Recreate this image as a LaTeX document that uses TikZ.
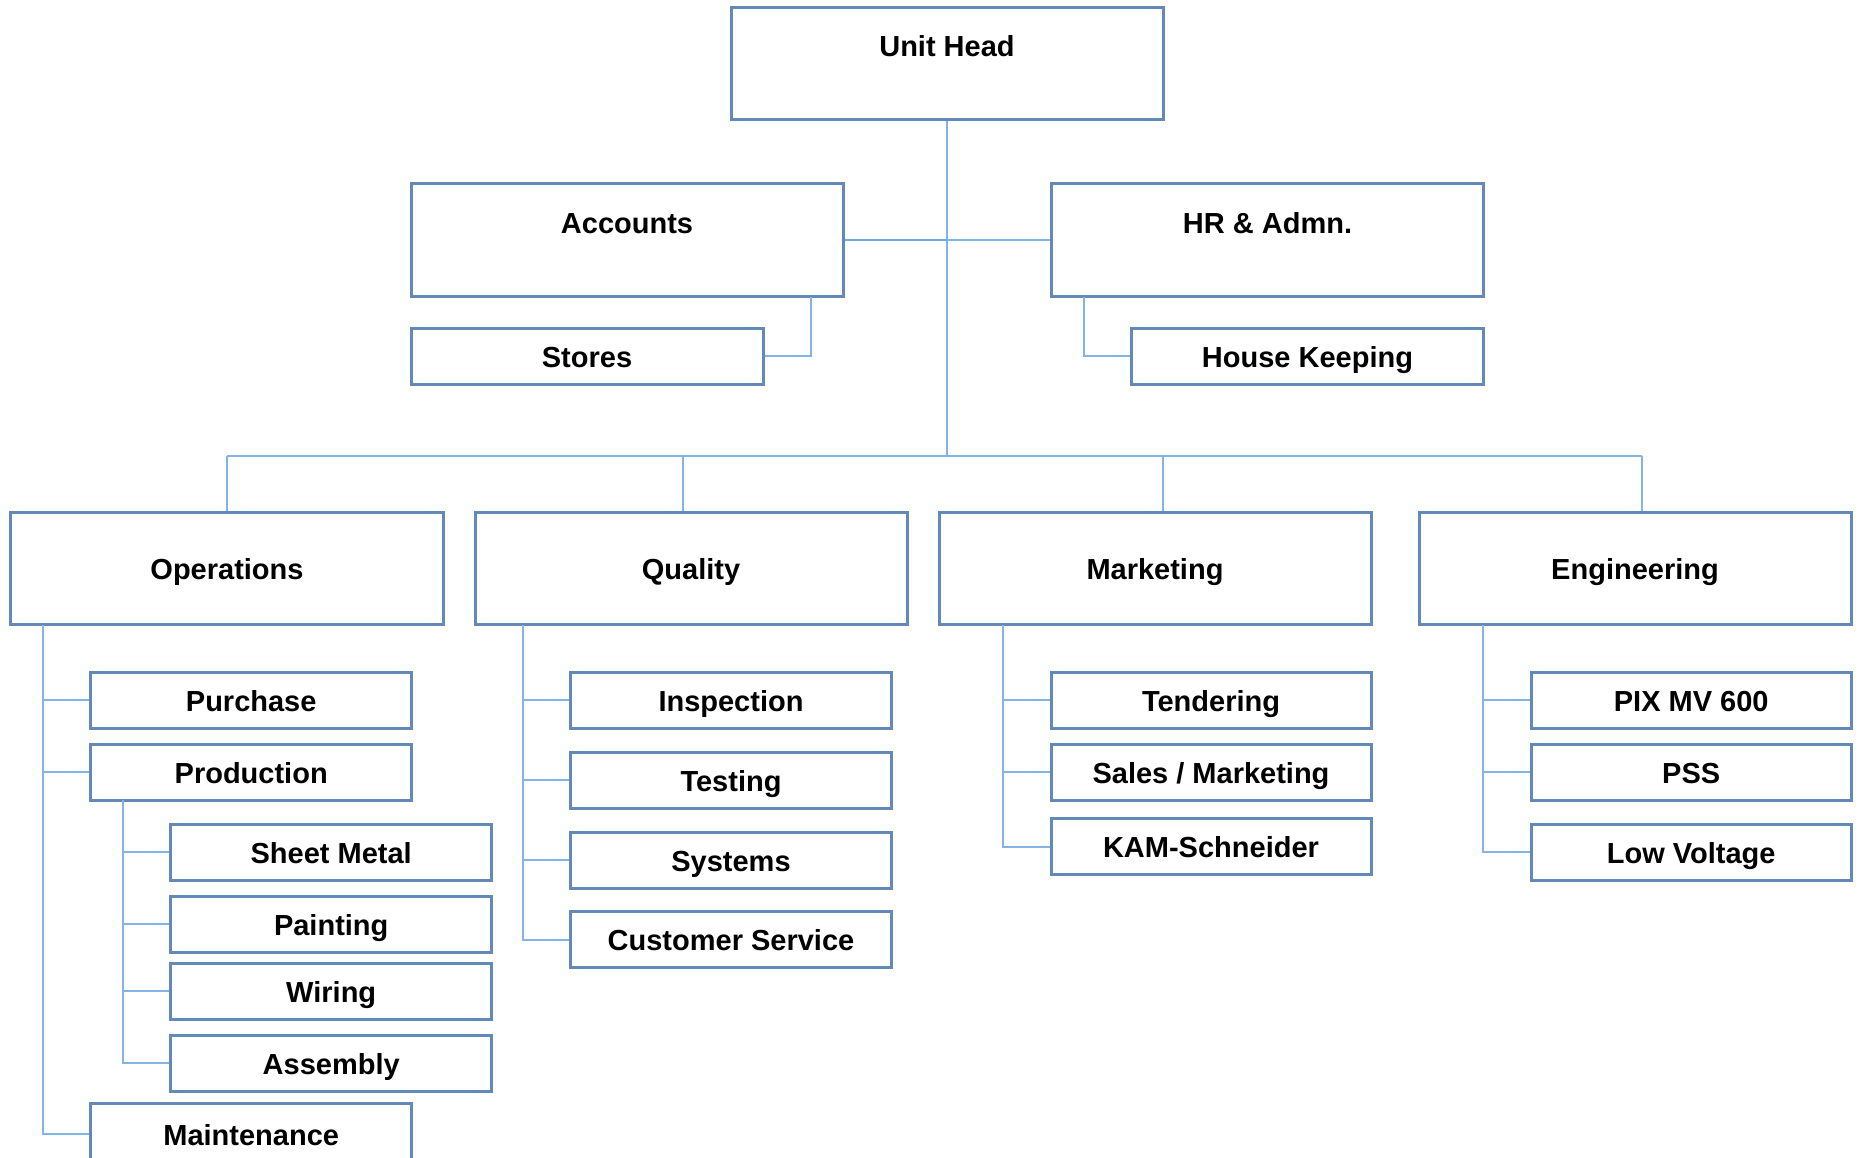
\documentclass[tikz,border=0pt]{standalone}
\usepackage{fontspec}
\setmainfont{Liberation Sans}
\definecolor{boxc}{RGB}{98,137,184}
\definecolor{linec}{RGB}{132,180,230}
\definecolor{linedk}{RGB}{112,168,228}
\begin{document}
\begin{tikzpicture}[x=1pt,y=-1pt,
  lbl/.style={font=\fontsize{29}{32}\selectfont\bfseries, text height=22pt, text depth=0pt},
  box/.style={draw=boxc, line width=3pt, fill=white, inner sep=0pt, rectangle, lbl},
  conn/.style={draw=linec, line width=2pt},
  conndk/.style={draw=linedk, line width=2.4pt}]
\clip (0,0) rectangle (1860,1158);
\fill[white] (0,0) rectangle (1860,1158);

% top level
\node[box, minimum width=432pt, minimum height=112pt,
  label={[yshift=18pt,lbl]center:Unit Head}] (uh) at (947,64) {};
\node[box, minimum width=432pt, minimum height=113pt,
  label={[yshift=17pt,lbl]center:Accounts}] (acc) at (627,240) {};
\node[box, minimum width=432pt, minimum height=113pt,
  label={[yshift=17pt,lbl]center:HR \& Admn.}] (hr) at (1267.5,240) {};
\node[box, minimum width=352pt, minimum height=56pt] (stores) at (587,356) {Stores};
\node[box, minimum width=352pt, minimum height=56pt] (hk) at (1307.5,356) {House Keeping};

% departments
\node[box, minimum width=433pt, minimum height=112pt] (ops) at (227,568) {Operations};
\node[box, minimum width=432pt, minimum height=112pt] (qual) at (691,568) {Quality};
\node[box, minimum width=432pt, minimum height=112pt] (mkt) at (1155,568) {Marketing};
\node[box, minimum width=432pt, minimum height=112pt] (eng) at (1635,568) {Engineering};

% operations children
\node[box, minimum width=321pt, minimum height=56pt] (pur) at (251.2,700) {Purchase};
\node[box, minimum width=321pt, minimum height=56pt] (prod) at (251.2,772) {Production};
\node[box, minimum width=321pt, minimum height=56pt] (sm) at (331.2,852) {Sheet Metal};
\node[box, minimum width=321pt, minimum height=56pt] (paint) at (331.2,924) {Painting};
\node[box, minimum width=321pt, minimum height=56pt] (wir) at (331.2,991) {Wiring};
\node[box, minimum width=321pt, minimum height=56pt] (asm) at (331.2,1063) {Assembly};
\node[box, minimum width=321pt, minimum height=62pt] (mnt) at (251.2,1134) {Maintenance};

% quality children
\node[box, minimum width=321pt, minimum height=56pt] (insp) at (731,700) {Inspection};
\node[box, minimum width=321pt, minimum height=56pt] (test) at (731,780) {Testing};
\node[box, minimum width=321pt, minimum height=56pt] (sys) at (731,860) {Systems};
\node[box, minimum width=321pt, minimum height=56pt] (cs) at (731,939.7) {Customer Service};

% marketing children
\node[box, minimum width=320pt, minimum height=56pt] (tend) at (1211,700) {Tendering};
\node[box, minimum width=320pt, minimum height=56pt] (sales) at (1211,772) {Sales / Marketing};
\node[box, minimum width=320pt, minimum height=56pt] (kam) at (1211,846.7) {KAM-Schneider};

% engineering children
\node[box, minimum width=320pt, minimum height=56pt] (pix) at (1691.2,700) {PIX MV 600};
\node[box, minimum width=320pt, minimum height=56pt] (pss) at (1691.2,772) {PSS};
\node[box, minimum width=320pt, minimum height=56pt] (lv) at (1691.2,852) {Low Voltage};

% connector coordinates
\coordinate (bus) at (947,455.7);
\coordinate (bops) at (227,455.7);
\coordinate (bqual) at (683,455.7);
\coordinate (bmkt) at (1163,455.7);
\coordinate (beng) at (1642.3,455.7);
\coordinate (tops) at (43,624.5);
\coordinate (tprod) at (123.3,800);
\coordinate (tqual) at (522.5,624.5);
\coordinate (tmkt) at (1003,624.5);
\coordinate (teng) at (1482.8,624.5);
\coordinate (tacc) at (810.7,297);
\coordinate (thr) at (1083.6,297);

\draw[conn] (uh.south) -- (bus);
\draw[conndk] (acc.east) -- (acc.east -| uh.south);
\draw[conn] (hr.west) -- (hr.west -| uh.south);
\draw[conn] (bops) -- (beng);
\draw[conn] (bops) -- (ops.north);
\draw[conn] (bqual) -- (bqual |- qual.north);
\draw[conn] (bmkt) -- (bmkt |- mkt.north);
\draw[conn] (beng) -- (beng |- eng.north);
\draw[conn] (tacc) |- (stores.east);
\draw[conn] (thr) |- (hk.west);

\draw[conn] (tops) |- (pur.west);
\draw[conn] (tops) |- (prod.west);
\draw[conn] (tops) |- (mnt.west);
\draw[conn] (tprod) |- (sm.west);
\draw[conn] (tprod) |- (paint.west);
\draw[conn] (tprod) |- (wir.west);
\draw[conn] (tprod) |- (asm.west);

\draw[conn] (tqual) |- (insp.west);
\draw[conn] (tqual) |- (test.west);
\draw[conn] (tqual) |- (sys.west);
\draw[conn] (tqual) |- (cs.west);

\draw[conn] (tmkt) |- (tend.west);
\draw[conn] (tmkt) |- (sales.west);
\draw[conn] (tmkt) |- (kam.west);

\draw[conn] (teng) |- (pix.west);
\draw[conn] (teng) |- (pss.west);
\draw[conn] (teng) |- (lv.west);
\end{tikzpicture}
\end{document}
